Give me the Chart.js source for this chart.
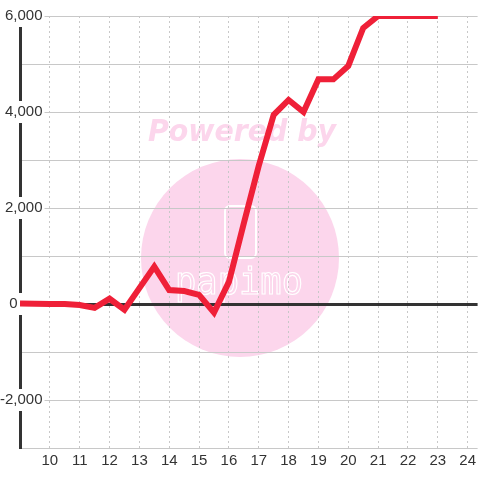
<!DOCTYPE html>
<html lang="en">
<head>
  <meta charset="UTF-8">
  <title>Line chart</title>
  <script src="https://cdn.jsdelivr.net/npm/chart.js"></script>
  <style>
    html, body { margin: 0; padding: 0; background: #ffffff; }
    #wrap { width: 480px; height: 480px; }
  </style>
</head>
<body>
  <div id="wrap"><canvas id="grafico" width="480" height="480"></canvas></div>

  <script>
    // x positions (hour) and values
    const horas = [9, 9.5, 10, 10.5, 11, 11.5, 12, 12.5, 13, 13.5, 14, 14.5, 15, 15.5,
                   16, 16.5, 17, 17.5, 18, 18.5, 19, 19.5, 20, 20.5, 21, 21.5, 22, 22.5, 23];
    const valores = [10, 5, 0, 0, -20, -80, 110, -120, 330, 780, 290, 270, 190, -180,
                     460, 1680, 2880, 3940, 4250, 4000, 4680, 4680, 4960, 5750, 6000, 6000, 6000, 6000, 6000];
    const yLabels = [-2000, 0, 2000, 4000, 6000];
    const xLabels = [10, 11, 12, 13, 14, 15, 16, 17, 18, 19, 20, 21, 22, 23, 24];

    const puntos = horas.map((h, i) => ({ x: h, y: valores[i] }));

    // watermark under the grid
    const marcaAgua = {
      id: "marcaAgua",
      beforeDraw(chart) {
        const ctx = chart.ctx;
        ctx.save();
        ctx.fillStyle = "#ffffff";
        ctx.fillRect(0, 0, chart.width, chart.height);

        ctx.fillStyle = "#fcd6ec";
        ctx.beginPath();
        ctx.arc(240, 258, 99, 0, Math.PI * 2);
        ctx.fill();

        ctx.font = "italic bold 30px 'DejaVu Sans'";
        ctx.textAlign = "center";
        ctx.textBaseline = "middle";
        ctx.fillText("Powered by", 242, 133, 188);

        ctx.strokeStyle = "#ffffff";
        ctx.lineWidth = 2;
        ctx.beginPath();
        ctx.roundRect(225, 206, 31, 52, 5);
        ctx.stroke();

        ctx.lineWidth = 1.2;
        ctx.font = "38px 'DejaVu Sans Mono'";
        ctx.textBaseline = "alphabetic";
        ctx.strokeText("papimo", 239, 294, 128);
        ctx.restore();
      }
    };

    new Chart(document.getElementById("grafico"), {
      type: "line",
      data: {
        datasets: [{
          data: puntos,
          borderColor: "#ef2038",
          borderWidth: 6,
          pointRadius: 0,
          tension: 0,
          fill: false
        }]
      },
      options: {
        responsive: false,
        animation: false,
        layout: { padding: { top: 16, left: 0, right: 0, bottom: 0 } },
        plugins: {
          legend: { display: false },
          tooltip: { enabled: false }
        },
        scales: {
          x: {
            type: "linear",
            min: 9,
            max: 24.333,
            afterFit: s => { s.height = 32; },
            border: { display: false, dash: [2, 3] },
            grid: {
              color: "#c8c8c8",
              lineWidth: 1,
              drawTicks: false
            },
            ticks: {
              stepSize: 1,
              includeBounds: false,
              padding: 4,
              color: "#333333",
              font: { family: "'Liberation Sans', Arial", size: 15 },
              callback: v => xLabels.includes(v) ? String(v) : ""
            }
          },
          y: {
            min: -3000,
            max: 6000,
            afterFit: s => { s.width = 20; },
            border: { display: true, color: "#333333", width: 3 },
            grid: {
              color: ctx => ctx.tick && ctx.tick.value === 0 ? "#333333" : "#c8c8c8",
              lineWidth: ctx => ctx.tick && ctx.tick.value === 0 ? 3 : 1,
              drawTicks: false
            },
            ticks: {
              stepSize: 1000,
              mirror: true,
              crossAlign: "far",
              padding: -20,
              color: "#333333",
              font: { family: "'Liberation Sans', Arial", size: 15 },
              showLabelBackdrop: true,
              backdropPadding: 2,
              backdropColor: ctx => yLabels.includes(ctx.tick.value) ? "#ffffff" : "rgba(0,0,0,0)",
              callback: v => {
                if (!yLabels.includes(v)) return "";
                // the zero label sits further left in the original
                return v === 0 ? "0      " : v.toLocaleString("en-US");
              }
            }
          }
        }
      },
      plugins: [marcaAgua]
    });
  </script>
</body>
</html>
